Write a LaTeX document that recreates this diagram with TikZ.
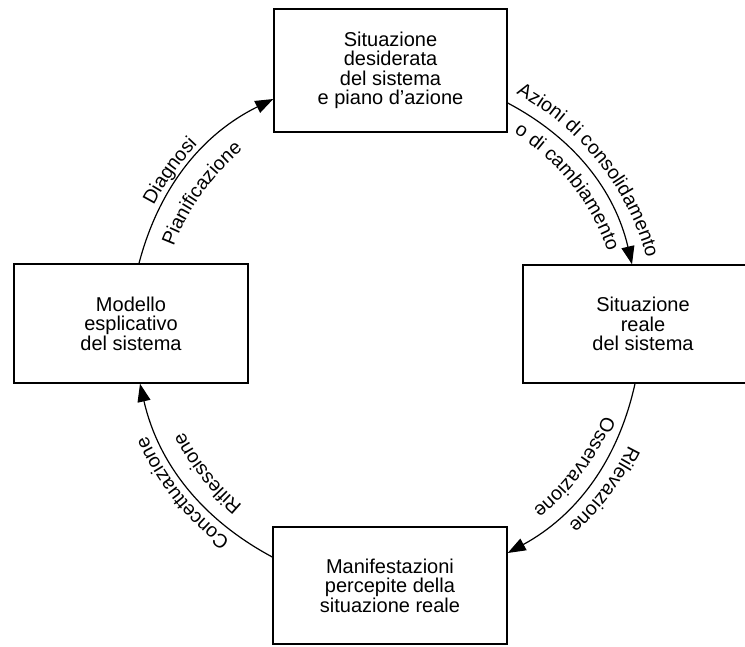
\documentclass[tikz,border=0pt]{standalone}
\usepackage{fontspec}
\setmainfont{Liberation Sans}
\usetikzlibrary{arrows.meta,decorations.text}
\newcommand\boxfont{\fontsize{20}{19.5}\selectfont}
\newcommand\lblfont{\fontsize{19.5}{20}\selectfont}
\begin{document}
\begin{tikzpicture}[x=1pt,y=1pt,
  box/.style={draw, line width=1.4pt, inner sep=0pt, align=center, font=\boxfont},
  conn/.style={line width=1.2pt, -{Triangle[length=18pt,width=13pt]}},
  bendcw/.style={bend left=24.5, looseness=0.95},
  ]
\path[use as bounding box] (0,0) rectangle (745,-646);
\clip (0,0) rectangle (745,-646);
\fill[white] (0,0) rectangle (745,-646);

\node[box, minimum width=233pt, minimum height=123pt] (T) at (390.5,-70.5)
  {Situazione\\desiderata\\del sistema\\e piano d'azione};
\node[box, minimum width=234pt, minimum height=119pt] (L) at (131,-323.5)
  {Modello\\esplicativo\\del sistema};
\node[box, minimum width=240pt, minimum height=118pt] (R) at (643,-324)
  {Situazione\\reale\\del sistema};
\node[box, minimum width=234pt, minimum height=117pt] (B) at (390,-585.5)
  {Manifestazioni\\percepite della\\situazione reale};

\coordinate (C) at (390,-328);

\draw[conn] ([xshift=8pt]L.north) to[bendcw] ([yshift=-28.5pt]T.west);
\draw[conn] ([yshift=-32.5pt]T.east) to[bendcw] ([xshift=-11pt]R.north);
\draw[conn] ([xshift=-8pt]R.south) to[bendcw] ([yshift=32.5pt]B.east);
\draw[conn] ([yshift=28.5pt]B.west) to[bendcw] ([xshift=9pt]L.south);

% labels along arcs (clockwise paths, text tops outward)
\path[decorate, decoration={text along path, text={|\lblfont|Diagnosi}, text align=center}]
  ([shift={(184.5:266pt)}]C) arc[start angle=184.5, end angle=104.5, radius=266pt];
\path[decorate, decoration={text along path, text={|\lblfont|Pianificazione}, text align=center}]
  ([shift={(184.5:231pt)}]C) arc[start angle=184.5, end angle=104.5, radius=231pt];

\path[decorate, decoration={text along path, text={|\lblfont|Azioni di consolidamento}, text align=center}]
  ([shift={(78.5:266pt)}]C) arc[start angle=78.5, end angle=-1.5, radius=266pt];
\path[decorate, decoration={text along path, text={|\lblfont|o di cambiamento}, text align=center}]
  ([shift={(78.5:231pt)}]C) arc[start angle=78.5, end angle=-1.5, radius=231pt];

\path[decorate, decoration={text along path, text={|\lblfont|Rilevazione}, text align=center}]
  ([shift={(3:266pt)}]C) arc[start angle=3, end angle=-77, radius=266pt];
\path[decorate, decoration={text along path, text={|\lblfont|Osservazione}, text align=center}]
  ([shift={(3:231pt)}]C) arc[start angle=3, end angle=-77, radius=231pt];

\path[decorate, decoration={text along path, text={|\lblfont|Concettuazione}, text align=center}]
  ([shift={(258.5:266pt)}]C) arc[start angle=258.5, end angle=178.5, radius=266pt];
\path[decorate, decoration={text along path, text={|\lblfont|Riflessione}, text align=center}]
  ([shift={(258.5:231pt)}]C) arc[start angle=258.5, end angle=178.5, radius=231pt];
\end{tikzpicture}
\end{document}
